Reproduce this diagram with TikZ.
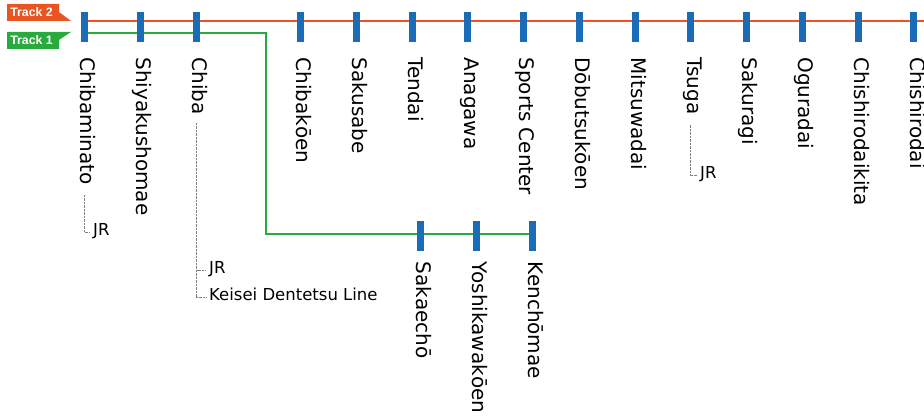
\documentclass[tikz,border=0pt]{standalone}
\usepackage{fontspec}
\setmainfont{DejaVu Sans}
\newfontfamily\flagfont{Liberation Sans}
\definecolor{trackorange}{RGB}{233,84,32}
\definecolor{trackgreen}{RGB}{40,170,60}
\definecolor{barblue}{RGB}{27,108,182}
\tikzset{
  bar/.style={fill=barblue, minimum width=7pt, minimum height=30pt, inner sep=0pt},
  stn/.style={rotate=-90, anchor=west, inner sep=0pt, text height=0.75em, text depth=0pt,
    font=\fontsize{20}{21}\selectfont},
  flagtxt/.style={white, inner sep=0pt, text height=0.72em, text depth=0pt,
    font=\flagfont\fontsize{12.3}{13}\selectfont\bfseries},
  note/.style={anchor=west, inner sep=0pt, text height=0.73em, text depth=0pt,
    font=\fontsize{16.5}{17}\selectfont},
  lead/.style={gray, line width=0.6pt, dash pattern=on 0.7pt off 0.7pt},
}
\begin{document}
\begin{tikzpicture}[x=1pt,y=-1pt]
   \useasboundingbox (0,0) rectangle (924,419);
   % track flags
   \fill[trackorange] (7,4) -- (59,4) -- (59,12) -- (71,21) -- (7,21) -- cycle;
   \node[flagtxt] (trk2) at (31.5,12.5) {Track 2};
   \fill[trackgreen] (7,32) -- (71,32) -- (59,40) -- (59,49) -- (7,49) -- cycle;
   \node[flagtxt] (trk1) at (31.5,40.5) {Track 1};
   % track lines
   \coordinate (t2start) at (84,21);
   \coordinate (t2end) at (924,21);
   \coordinate (t1start) at (84,33);
   \coordinate (t1turn) at (266,33);
   \coordinate (t1down) at (266,234);
   \coordinate (t1end) at (532,234);
   \draw[trackorange, line width=2.6pt] (t2start) -- (t2end);
   \draw[trackgreen, line width=2.8pt] (t1start) -- (t1turn) -- (t1down) -- (t1end);
   % stations, main line
   \node[bar] (b1) at (84,27) {};
   \node[bar] (b2) at (140,27) {};
   \node[bar] (b3) at (196.5,27) {};
   \node[bar] (b4) at (300.5,27) {};
   \node[bar] (b5) at (356.25,27) {};
   \node[bar] (b6) at (412,27) {};
   \node[bar] (b7) at (467.75,27) {};
   \node[bar] (b8) at (523.5,27) {};
   \node[bar] (b9) at (579.25,27) {};
   \node[bar] (b10) at (635,27) {};
   \node[bar] (b11) at (690.75,27) {};
   \node[bar] (b12) at (746.5,27) {};
   \node[bar] (b13) at (802.25,27) {};
   \node[bar] (b14) at (858,27) {};
   \node[bar] (b15) at (913.75,27) {};
   \node[stn] (l1) at ([yshift=-15pt]b1.south) {Chibaminato};
   \node[stn] (l2) at ([yshift=-15pt]b2.south) {Shiyakushomae};
   \node[stn] (l3) at ([yshift=-15pt]b3.south) {Chiba};
   \node[stn] (l4) at ([yshift=-15pt]b4.south) {Chibakōen};
   \node[stn] (l5) at ([yshift=-15pt]b5.south) {Sakusabe};
   \node[stn] (l6) at ([yshift=-15pt]b6.south) {Tendai};
   \node[stn] (l7) at ([yshift=-15pt]b7.south) {Anagawa};
   \node[stn] (l8) at ([yshift=-15pt]b8.south) {Sports Center};
   \node[stn] (l9) at ([yshift=-15pt]b9.south) {Dōbutsukōen};
   \node[stn] (l10) at ([yshift=-15pt]b10.south) {Mitsuwadai};
   \node[stn] (l11) at ([yshift=-15pt]b11.south) {Tsuga};
   \node[stn] (l12) at ([yshift=-15pt]b12.south) {Sakuragi};
   \node[stn] (l13) at ([yshift=-15pt]b13.south) {Oguradai};
   \node[stn] (l14) at ([yshift=-15pt]b14.south) {Chishirodaikita};
   \node[stn] (l15) at ([yshift=-15pt]b15.south) {Chishirodai};
   % stations, branch
   \node[bar] (b16) at (420,236.5) {};
   \node[bar] (b17) at (476,236.5) {};
   \node[bar] (b18) at (532,236.5) {};
   \node[stn] (l16) at ([yshift=-10pt]b16.south) {Sakaechō};
   \node[stn] (l17) at ([yshift=-10pt]b17.south) {Yoshikawakōen};
   \node[stn] (l18) at ([yshift=-10pt]b18.south) {Kenchōmae};
   % transfers
   \node[note] (jr1) at (93,232) {JR};
   \node[note] (jr2) at (209,270) {JR};
   \node[note] (keisei) at (209,297) {Keisei Dentetsu Line};
   \node[note] (jr3) at (700,175) {JR};
   \draw[lead] ([yshift=-10pt]l1.east) |- ([xshift=-3pt]jr1.west);
   \draw[lead] ([yshift=-8pt]l3.east) |- ([xshift=-3pt]jr2.west);
   \draw[lead] ([yshift=-8pt]l3.east) |- ([xshift=-3pt]keisei.west);
   \draw[lead] ([yshift=-10pt]l11.east) |- ([xshift=-3pt]jr3.west);
\end{tikzpicture}
\end{document}
